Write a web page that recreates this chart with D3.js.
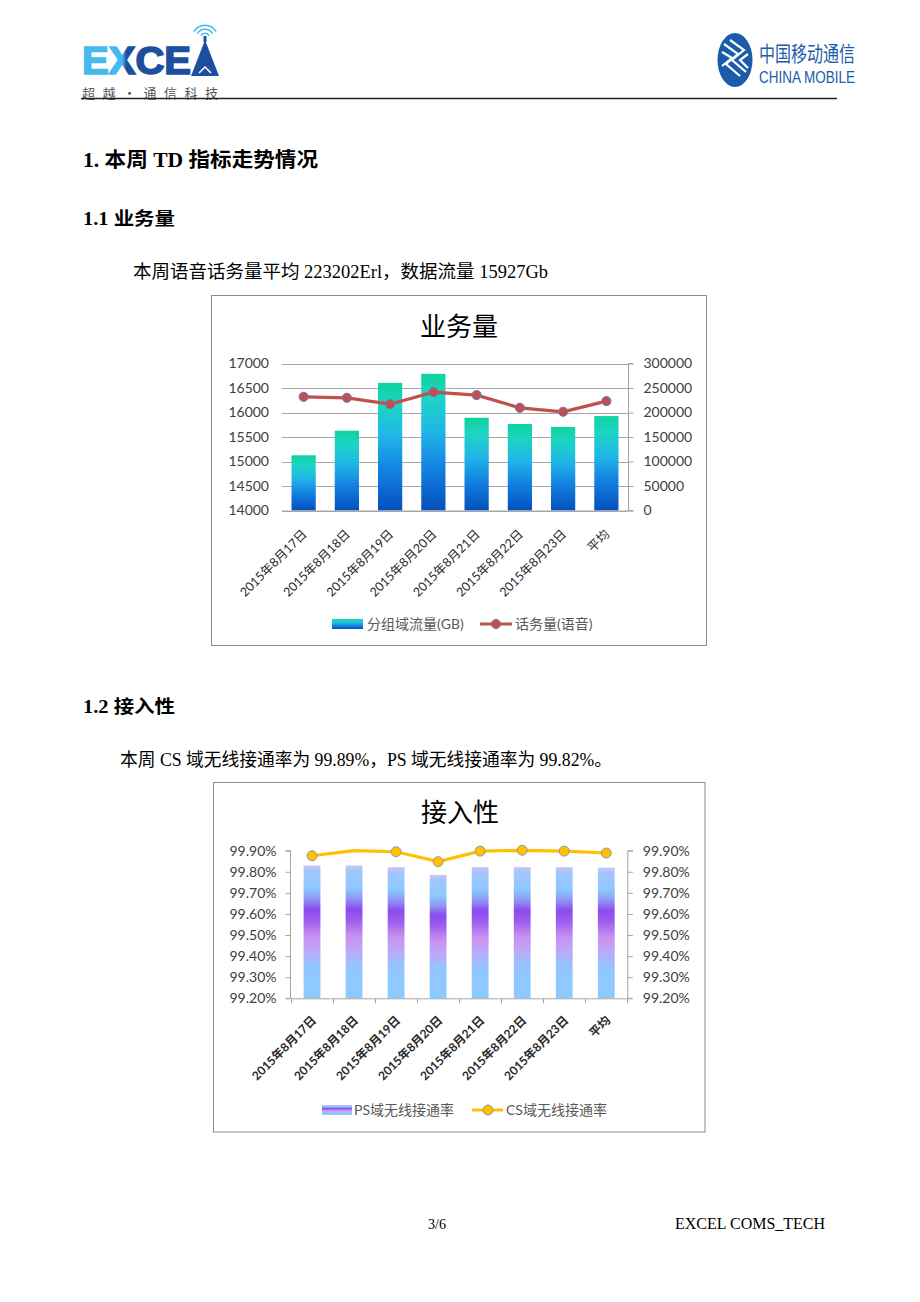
<!DOCTYPE html>
<html><head><meta charset="utf-8">
<script src="https://cdn.jsdelivr.net/npm/d3@7/dist/d3.min.js"></script>
<style>
html,body{margin:0;padding:0;background:#fff;}
svg{display:block;}
</style>
</head><body>
<svg id="page" width="920" height="1302"></svg>
<script>
// ---------- data ----------
const categories = ["2015年8月17日","2015年8月18日","2015年8月19日","2015年8月20日","2015年8月21日","2015年8月22日","2015年8月23日","平均"];
const trafficGB = [15127, 15628, 16605, 16789, 15893, 15765, 15704, 15927];
const voiceErl = [232000, 230000, 217000, 241600, 235500, 209600, 201500, 223202];
const trafficTicks = [14000, 14500, 15000, 15500, 16000, 16500, 17000];
const voiceTicks = [0, 50000, 100000, 150000, 200000, 250000, 300000];
const psRate = [99.83, 99.83, 99.822, 99.785, 99.822, 99.822, 99.822, 99.82];
const csRate = [99.876, 99.90, 99.895, 99.848, 99.898, 99.902, 99.898, 99.889];
const rateTicks = [99.2, 99.3, 99.4, 99.5, 99.6, 99.7, 99.8, 99.9];
const legend1 = ["分组域流量(GB)", "话务量(语音)"];
const legend2 = ["PS域无线接通率", "CS域无线接通率"];

const svg = d3.select("#page");
svg.append("rect").attr("width",920).attr("height",1302).attr("fill","#fff");
const defs = svg.append("defs");

const SERIF = "'Liberation Serif','Noto Sans CJK SC',serif";
const CJK = "'Noto Sans CJK SC',sans-serif";
const LAT = "Lato,'Noto Sans CJK SC',sans-serif";

// ---------- header ----------
const lg = defs.append("linearGradient").attr("id","logoGrad").attr("gradientUnits","userSpaceOnUse")
  .attr("x1",83).attr("x2",192).attr("y1",0).attr("y2",0);
[[0,"#45b9ee"],[0.36,"#45b9ee"],[0.40,"#1d4f9f"],[1,"#1d4f9f"]].forEach(s=>lg.append("stop").attr("offset",s[0]).attr("stop-color",s[1]));
svg.append("text").attr("x",82).attr("y",74).text("EXCE")
  .attr("font-family","'Liberation Sans',sans-serif").attr("font-weight","bold").attr("font-size",38)
  .attr("textLength",109).attr("lengthAdjust","spacingAndGlyphs")
  .attr("fill","url(#logoGrad)").attr("stroke","url(#logoGrad)").attr("stroke-width",1.6);
svg.append("path").attr("d","M191,76 L205,40 L219,76 Z").attr("fill","#1d4f9f");
svg.append("path").attr("d","M199,73 L205,67 L211,73").attr("fill","none").attr("stroke","#fff").attr("stroke-width",1.5);
svg.append("rect").attr("x",203.5).attr("y",36).attr("width",3).attr("height",6).attr("fill","#1d4f9f");
[4,8,12].forEach(r=>{
  const a0=-Math.PI/3,a1=Math.PI/3;
  svg.append("path").attr("d",d3.arc()({innerRadius:r,outerRadius:r+1.6,startAngle:a0,endAngle:a1}))
    .attr("transform","translate(205,38)").attr("fill","#45b9ee");
});
svg.append("text").attr("x",82).attr("y",97.5).text("超越·通信科技")
  .attr("font-family",CJK).attr("font-size",13).attr("fill","#555")
  .attr("textLength",136).attr("lengthAdjust","spacing");
svg.append("line").attr("x1",81).attr("x2",837).attr("y1",98.5).attr("y2",98.5).attr("stroke","#222").attr("stroke-width",1.3);

// China Mobile emblem
svg.append("ellipse").attr("cx",735).attr("cy",60).attr("rx",17.5).attr("ry",27).attr("fill","#1a5ca8");
const em = svg.append("g").attr("fill","none").attr("stroke","#fff").attr("stroke-width",2.2);
em.append("path").attr("d","M724,44 L738,54 L726,64 L740,76");
em.append("path").attr("d","M730,40 L744,50 L732,60 L746,72");
em.append("path").attr("d","M722,52 L732,58 L722,66");
em.append("path").attr("d","M748,54 L740,60 L748,68");
svg.append("text").attr("x",759).attr("y",61).text("中国移动通信")
  .attr("font-family",CJK).attr("font-size",21).attr("fill","#1a5ca8")
  .attr("textLength",96).attr("lengthAdjust","spacingAndGlyphs");
svg.append("text").attr("x",759).attr("y",83).text("CHINA MOBILE")
  .attr("font-family","'Liberation Sans',sans-serif").attr("font-size",17).attr("fill","#1a5ca8")
  .attr("textLength",96).attr("lengthAdjust","spacingAndGlyphs");

// ---------- body text ----------
function bodyText(x,y,t,size,weight,len){
  svg.append("text").attr("x",x).attr("y",y).text(t).attr("font-family",SERIF)
    .attr("font-size",size).attr("font-weight",weight).attr("fill","#000")
    .attr("textLength",len).attr("lengthAdjust","spacingAndGlyphs");
}
bodyText(83,167,"1. 本周 TD 指标走势情况",20,"bold",235);
bodyText(83,225,"1.1 业务量",18,"bold",92);
bodyText(133,278,"本周语音话务量平均 223202Erl，数据流量 15927Gb",18,"normal",415);
bodyText(83,713,"1.2 接入性",18,"bold",92);
bodyText(120,766,"本周 CS 域无线接通率为 99.89%，PS 域无线接通率为 99.82%。",18,"normal",492);

svg.append("text").attr("x",428).attr("y",1229).text("3/6").attr("font-family",SERIF).attr("font-size",14).attr("fill","#000");
svg.append("text").attr("x",675).attr("y",1229).text("EXCEL COMS_TECH").attr("font-family",SERIF).attr("font-size",16).attr("fill","#000");

// ---------- chart 1 ----------
(function(){
  const g = svg.append("g");
  g.append("rect").attr("x",211.5).attr("y",295.5).attr("width",495).attr("height",350)
    .attr("fill","#fff").attr("stroke","#8c8c8c").attr("stroke-width",1);
  g.append("text").attr("x",459).attr("y",336).attr("text-anchor","middle").text("业务量")
    .attr("font-family",CJK).attr("font-size",26).attr("fill","#000");

  const L=282, R=628, T=363.5, B=510.5;
  const x = d3.scaleBand().domain(categories).range([L,R]).paddingInner(0.44).paddingOuter(0.22);
  const yL = d3.scaleLinear().domain([14000,17000]).range([B,T]);
  const yR = d3.scaleLinear().domain([0,300000]).range([B,T]);

  const gr = defs.append("linearGradient").attr("id","bar1Grad").attr("x1",0).attr("x2",0).attr("y1",0).attr("y2",1);
  [[0,"#0fd39e"],[0.18,"#1dd4c4"],[0.42,"#20b6e8"],[0.7,"#127fe0"],[1,"#0350bd"]]
    .forEach(s=>gr.append("stop").attr("offset",s[0]).attr("stop-color",s[1]));

  // gridlines
  g.append("g").selectAll("line").data(trafficTicks).join("line")
    .attr("x1",L).attr("x2",R).attr("y1",d=>Math.round(yL(d))+0.5).attr("y2",d=>Math.round(yL(d))+0.5)
    .attr("stroke","#a6a6a6").attr("stroke-width",1);

  // bars
  g.append("g").selectAll("rect").data(trafficGB).join("rect")
    .attr("x",(d,i)=>x(categories[i])).attr("width",x.bandwidth())
    .attr("y",d=>yL(d)).attr("height",d=>B-yL(d)).attr("fill","url(#bar1Grad)");

  // left labels
  g.append("g").selectAll("text").data(trafficTicks).join("text")
    .attr("x",269).attr("y",d=>yL(d)).attr("dy","0.35em").attr("text-anchor","end")
    .text(d=>d).attr("font-family",LAT).attr("font-size",14).attr("fill","#404040");

  // right axis
  const ax = g.append("g").attr("transform",`translate(${R+0.5},0)`)
    .call(d3.axisRight(yR).tickValues(voiceTicks).tickSize(5).tickPadding(10).tickFormat(d3.format("d")));
  ax.selectAll("path,line").attr("stroke","#a6a6a6");
  ax.selectAll("text").attr("font-family",LAT).attr("font-size",14).attr("fill","#404040");
  ax.select(".domain").attr("d",`M5,${T}H0V${B}H5`);
  g.append("line").attr("x1",L).attr("x2",R+5).attr("y1",B+0.5).attr("y2",B+0.5).attr("stroke","#a6a6a6");

  // line
  const line = d3.line().x((d,i)=>x(categories[i])+x.bandwidth()/2).y(d=>yR(d));
  g.append("path").datum(voiceErl).attr("d",line).attr("fill","none").attr("stroke","#c0504d").attr("stroke-width",3.2);
  g.append("g").selectAll("circle").data(voiceErl).join("circle")
    .attr("cx",(d,i)=>x(categories[i])+x.bandwidth()/2).attr("cy",d=>yR(d)).attr("r",4.6)
    .attr("fill","#c0504d").attr("stroke","#6f79c0").attr("stroke-width",1);

  // category labels
  g.append("g").selectAll("text").data(categories).join("text")
    .attr("transform",d=>`translate(${x(d)+x.bandwidth()/2+4},535) rotate(-45)`)
    .attr("text-anchor","end").text(d=>d)
    .attr("font-family",LAT).attr("font-size",12.5).attr("fill","#262626");

  // legend
  const lgG = g.append("g");
  lgG.append("rect").attr("x",332).attr("y",619).attr("width",31).attr("height",10).attr("fill","url(#bar1Grad)");
  lgG.append("text").attr("x",367).attr("y",629).text(legend1[0]).attr("font-family",LAT).attr("font-size",14).attr("fill","#595959");
  lgG.append("line").attr("x1",480).attr("x2",512).attr("y1",624).attr("y2",624).attr("stroke","#c0504d").attr("stroke-width",3);
  lgG.append("circle").attr("cx",496).attr("cy",624).attr("r",4.6).attr("fill","#c0504d").attr("stroke","#6f79c0");
  lgG.append("text").attr("x",515).attr("y",629).text(legend1[1]).attr("font-family",LAT).attr("font-size",14).attr("fill","#595959");
})();

// ---------- chart 2 ----------
(function(){
  const g = svg.append("g");
  g.append("rect").attr("x",213.5).attr("y",782.5).attr("width",491.5).attr("height",349.5)
    .attr("fill","#fff").attr("stroke","#8c8c8c").attr("stroke-width",1);
  g.append("text").attr("x",460).attr("y",822).attr("text-anchor","middle").text("接入性")
    .attr("font-family",CJK).attr("font-size",26).attr("fill","#000");

  const L=291, R=627.3, T=850.7, B=998.3;
  const x = d3.scaleBand().domain(categories).range([L,R]).paddingInner(0.6).paddingOuter(0.3);
  const y = d3.scaleLinear().domain([99.2,99.9]).range([B,T]);
  const fmt = d=>d3.format(".2f")(d)+"%";

  const gr = defs.append("linearGradient").attr("id","bar2Grad").attr("x1",0).attr("x2",0).attr("y1",0).attr("y2",1);
  [[0,"#cbc6f8"],[0.04,"#a4c6fe"],[0.17,"#8cc8ff"],[0.25,"#9296f4"],[0.33,"#8a4cee"],[0.41,"#9c5cf0"],
   [0.53,"#c890f0"],[0.64,"#bca8f8"],[0.76,"#92c6ff"],[1,"#8ccafe"]]
    .forEach(s=>gr.append("stop").attr("offset",s[0]).attr("stop-color",s[1]));

  g.append("g").selectAll("rect").data(psRate).join("rect")
    .attr("x",(d,i)=>x(categories[i])).attr("width",x.bandwidth())
    .attr("y",d=>y(d)).attr("height",d=>B-y(d)).attr("fill","url(#bar2Grad)");

  const axL = g.append("g").attr("transform",`translate(${L-0.5},0)`)
    .call(d3.axisLeft(y).tickValues(rateTicks).tickSize(5).tickPadding(9).tickFormat(fmt));
  const axR = g.append("g").attr("transform",`translate(${R+0.5},0)`)
    .call(d3.axisRight(y).tickValues(rateTicks).tickSize(5).tickPadding(10).tickFormat(fmt));
  [axL,axR].forEach(a=>{
    a.selectAll("path,line").attr("stroke","#a6a6a6");
    a.selectAll("text").attr("font-family",LAT).attr("font-size",14).attr("fill","#404040");
  });
  axL.select(".domain").attr("d",`M-5,${T}H0V${B}H-5`);
  axR.select(".domain").attr("d",`M5,${T}H0V${B}H5`);

  // bottom axis with boundary ticks
  const bounds = d3.range(categories.length+1).map(i=>L+ i*(R-L)/categories.length);
  g.append("line").attr("x1",L).attr("x2",R).attr("y1",B+0.5).attr("y2",B+0.5).attr("stroke","#a6a6a6");
  g.append("g").selectAll("line").data(bounds).join("line")
    .attr("x1",d=>Math.round(d)+0.5).attr("x2",d=>Math.round(d)+0.5).attr("y1",B).attr("y2",B+5).attr("stroke","#a6a6a6");

  const line = d3.line().x((d,i)=>x(categories[i])+x.bandwidth()/2).y(d=>y(d));
  g.append("path").datum(csRate).attr("d",line).attr("fill","none").attr("stroke","#ffc000").attr("stroke-width",3.2);
  // the reference shows no marker on the second point
  g.append("g").selectAll("circle").data(csRate.map((v,i)=>({v,i})).filter(d=>d.i!==1)).join("circle")
    .attr("cx",d=>x(categories[d.i])+x.bandwidth()/2).attr("cy",d=>y(d.v)).attr("r",5)
    .attr("fill","#ffc000").attr("stroke","#8a9ab0").attr("stroke-width",1);

  g.append("g").selectAll("text").data(categories).join("text")
    .attr("transform",d=>`translate(${x(d)+x.bandwidth()/2+5},1021) rotate(-45)`)
    .attr("text-anchor","end").text(d=>d)
    .attr("font-family",LAT).attr("font-size",12).attr("font-weight","bold").attr("fill","#2a2a2a");

  const lgG = g.append("g");
  lgG.append("rect").attr("x",322).attr("y",1105).attr("width",30).attr("height",10).attr("fill","url(#bar2Grad)");
  lgG.append("text").attr("x",354).attr("y",1115).text(legend2[0]).attr("font-family",LAT).attr("font-size",14).attr("fill","#595959");
  lgG.append("line").attr("x1",472).attr("x2",503).attr("y1",1110).attr("y2",1110).attr("stroke","#ffc000").attr("stroke-width",3);
  lgG.append("circle").attr("cx",488).attr("cy",1110).attr("r",5).attr("fill","#ffc000").attr("stroke","#8a9ab0");
  lgG.append("text").attr("x",506).attr("y",1115).text(legend2[1]).attr("font-family",LAT).attr("font-size",14).attr("fill","#595959");
})();
</script>
</body></html>
